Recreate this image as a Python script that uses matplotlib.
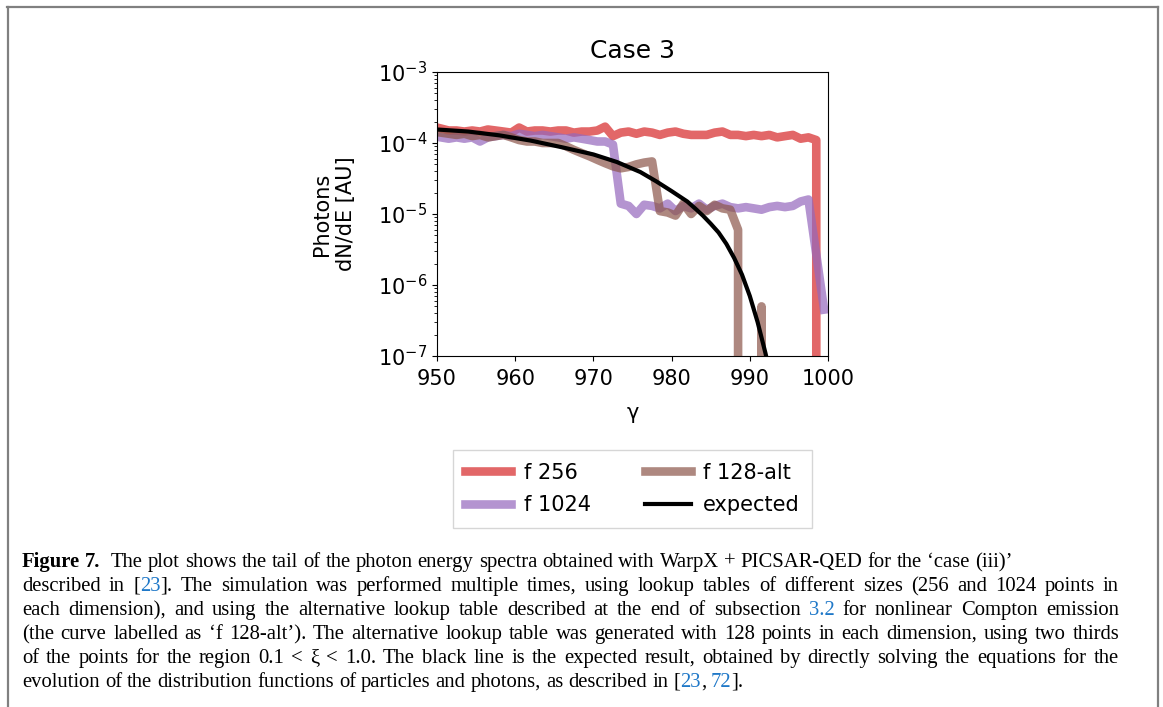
import re
import numpy as np
import matplotlib
matplotlib.use("Agg")
import matplotlib.pyplot as plt
from matplotlib.lines import Line2D

# ---------------- data ----------------
gamma_bins = [950.5 + i for i in range(50)]

f256 = [1.60e-4, 1.50e-4, 1.50e-4, 1.45e-4, 1.50e-4, 1.45e-4, 1.55e-4, 1.50e-4, 1.45e-4, 1.40e-4,
        1.65e-4, 1.45e-4, 1.50e-4, 1.50e-4, 1.45e-4, 1.50e-4, 1.50e-4, 1.40e-4, 1.45e-4, 1.45e-4,
        1.50e-4, 1.70e-4, 1.25e-4, 1.40e-4, 1.45e-4, 1.35e-4, 1.45e-4, 1.40e-4, 1.30e-4, 1.40e-4,
        1.45e-4, 1.35e-4, 1.30e-4, 1.30e-4, 1.30e-4, 1.40e-4, 1.45e-4, 1.30e-4, 1.30e-4, 1.25e-4,
        1.30e-4, 1.25e-4, 1.30e-4, 1.20e-4, 1.25e-4, 1.30e-4, 1.15e-4, 1.20e-4, 1.10e-4, 0.0]

f1024 = [1.20e-4, 1.15e-4, 1.20e-4, 1.15e-4, 1.20e-4, 1.05e-4, 1.20e-4, 1.25e-4, 1.30e-4, 1.25e-4,
         1.35e-4, 1.30e-4, 1.25e-4, 1.30e-4, 1.25e-4, 1.20e-4, 1.15e-4, 1.20e-4, 1.15e-4, 1.10e-4,
         1.05e-4, 1.05e-4, 0.95e-4, 1.40e-5, 1.30e-5, 1.00e-5, 1.35e-5, 1.30e-5, 1.20e-5, 1.40e-5,
         1.10e-5, 1.30e-5, 1.20e-5, 1.40e-5, 1.15e-5, 1.30e-5, 1.40e-5, 1.25e-5, 1.20e-5, 1.25e-5,
         1.20e-5, 1.15e-5, 1.25e-5, 1.30e-5, 1.25e-5, 1.30e-5, 1.50e-5, 1.60e-5, 2.70e-6, 4.50e-7]

f128alt = [1.40e-4, 1.35e-4, 1.30e-4, 1.35e-4, 1.25e-4, 1.30e-4, 1.20e-4, 1.25e-4, 1.30e-4, 1.20e-4,
           1.10e-4, 1.05e-4, 1.05e-4, 1.00e-4, 1.00e-4, 1.00e-4, 0.90e-4, 0.80e-4, 0.72e-4, 0.65e-4,
           0.58e-4, 0.52e-4, 0.47e-4, 0.44e-4, 0.46e-4, 0.50e-4, 0.53e-4, 0.55e-4, 1.10e-5, 1.05e-5,
           0.95e-5, 1.40e-5, 1.00e-5, 1.30e-5, 1.10e-5, 1.35e-5, 1.20e-5, 1.15e-5, 6.00e-6, 0.0,
           0.0, 5.00e-7, 0.0, 0.0, 0.0, 0.0, 0.0, 0.0, 0.0, 0.0]

gamma_expected = [950, 954, 958, 962, 966, 970, 973, 976, 978, 980, 982, 983, 984, 985, 986, 987,
                  988, 989, 990, 991, 992, 993]
expected = [1.55e-4, 1.45e-4, 1.28e-4, 1.08e-4, 8.7e-5, 6.9e-5, 5.4e-5, 3.9e-5, 2.9e-5, 2.1e-5,
            1.5e-5, 1.2e-5, 9.5e-6, 7.3e-6, 5.5e-6, 3.8e-6, 2.4e-6, 1.4e-6, 7.0e-7, 3.0e-7,
            1.1e-7, 3.5e-8]

series_labels = ["f 256", "f 1024", "f 128-alt", "expected"]
x_ticks = [950, 960, 970, 980, 990, 1000]

caption_lines = [
    "*Figure* *7.*  The plot shows the tail of the photon energy spectra obtained with WarpX + PICSAR-QED for the \u2018case (iii)\u2019",
    "described in [<23>]. The simulation was performed multiple times, using lookup tables of different sizes (256 and 1024 points in",
    "each dimension), and using the alternative lookup table described at the end of subsection <3.2> for nonlinear Compton emission",
    "(the curve labelled as \u2018f 128-alt\u2019). The alternative lookup table was generated with 128 points in each dimension, using two thirds",
    "of the points for the region 0.1 < \u03be < 1.0. The black line is the expected result, obtained by directly solving the equations for the",
    "evolution of the distribution functions of particles and photons, as described in [<23>, <72>].",
]
justify = [False, True, True, True, True, False]

# ---------------- figure ----------------
W, H = 1163, 707
fig = plt.figure(figsize=(W / 100, H / 100), dpi=100)
fig.patch.set_facecolor("white")

def fx(x):
    return x / W

def fy(y):
    return 1 - y / H

ax = fig.add_axes([fx(437), fy(356), fx(828) - fx(437), fy(72) - fy(356)])

ax.plot(gamma_bins, f256, color="tab:red", alpha=0.7, lw=6.2, label=series_labels[0])
ax.plot(gamma_bins, f1024, color="tab:purple", alpha=0.7, lw=6.2, label=series_labels[1])
ax.plot(gamma_bins, f128alt, color="tab:brown", alpha=0.7, lw=6.2, label=series_labels[2])
ax.plot(gamma_expected, expected, color="black", lw=3, label=series_labels[3])

ax.set_yscale("log")
ax.set_xlim(950, 1000)
ax.set_ylim(1e-7, 1e-3)
ax.set_xticks(x_ticks)
ax.tick_params(axis="both", labelsize=15)
ax.tick_params(axis="x", pad=6)
ax.set_title("Case 3", fontsize=18, pad=10)
ax.set_xlabel("\u03b3", fontsize=15, labelpad=10)
ax.set_ylabel("Photons\ndN/dE [AU]", fontsize=15, labelpad=16)

leg = ax.legend(loc="upper center", bbox_to_anchor=(0.5, -0.295), ncol=2, fontsize=15,
                handlelength=2.2, columnspacing=2.6, frameon=True, fancybox=False,
                borderpad=0.6, labelspacing=0.6, handletextpad=0.6)
leg.get_frame().set_edgecolor("#cccccc")

# frame lines around the figure panel
grey = "#808080"
fig.add_artist(Line2D([fx(7.5), fx(7.5)], [fy(7), fy(707)], color=grey, lw=1.6))
fig.add_artist(Line2D([fx(7), fx(1158)], [fy(7), fy(7)], color=grey, lw=1.6))
fig.add_artist(Line2D([fx(1158), fx(1158)], [fy(7), fy(707)], color=grey, lw=1.6))

# ---------------- caption ----------------
renderer = fig.canvas.get_renderer()
CAP_FONT = ["Liberation Serif", "DejaVu Serif"]
BLUE = "#1f78c8"

def measure(s, size, weight="normal"):
    t = fig.text(0, 0, s, fontsize=size, family=CAP_FONT, weight=weight)
    w = t.get_window_extent(renderer).width
    t.remove()
    return w

def parse_word(word):
    if word.startswith("*") and word.endswith("*") and len(word) > 1:
        return [(word[1:-1], "black", "bold")]
    pieces = []
    for part in re.split(r"(<[^>]*>)", word):
        if not part:
            continue
        if part.startswith("<") and part.endswith(">"):
            pieces.append((part[1:-1], BLUE, "normal"))
        else:
            pieces.append((part, "black", "normal"))
    return pieces

def layout(line, size):
    words = [parse_word(w) for w in line.split(" ")]
    widths = []
    for w in words:
        widths.append([measure(p[0], size, p[2]) if p[0] else 0 for p in w])
    space = measure("x x", size) - measure("xx", size)
    return words, widths, space

# choose font size so the justified lines are close to their natural width
base = 10.0
nats = []
for i, line in enumerate(caption_lines):
    if justify[i]:
        wds, wid, sp = layout(line, base)
        nats.append(sum(sum(w) for w in wid) + sp * (len(wds) - 1))
cap_size = base * (1070.0 / max(nats))

x_left, x_right = 22.0, 1119.0
baseline0, line_step = 567.0, 24.0
for i, line in enumerate(caption_lines):
    words, widths, space = layout(line, cap_size)
    tot = sum(sum(w) for w in widths)
    gap = space
    if justify[i] and len(words) > 1:
        gap = (x_right - x_left - tot) / (len(words) - 1)
    x = x_left
    yb = baseline0 + i * line_step
    for w, ws in zip(words, widths):
        xx = x
        for (txt, col, wt), pw in zip(w, ws):
            if txt:
                fig.text(fx(xx), fy(yb), txt, fontsize=cap_size, family=CAP_FONT,
                         weight=wt, color=col, ha="left", va="baseline")
            xx += pw
        x += sum(ws) + gap

fig.savefig("out.png", dpi=100)
